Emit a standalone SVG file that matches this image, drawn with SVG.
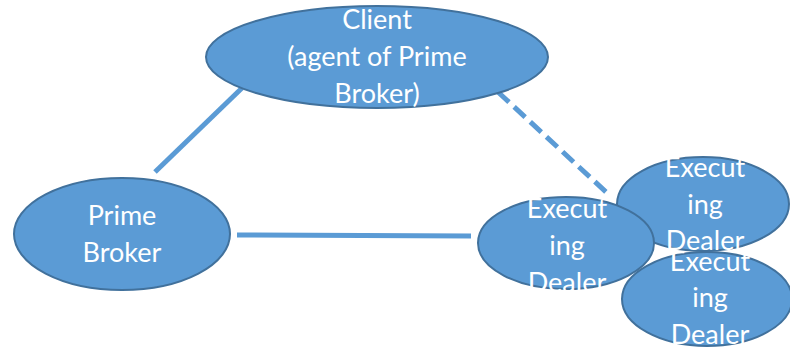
<svg xmlns="http://www.w3.org/2000/svg" width="790" height="348" viewBox="0 0 790 348">
  <style>
    .node { fill: #5b9bd5; stroke: #41719c; stroke-width: 2; }
    .label { fill: #ffffff; font-family: Lato, "Open Sans", "Liberation Sans", sans-serif; font-size: 27px; text-anchor: middle; }
    .link { stroke: #5b9bd5; stroke-width: 5; fill: none; }
    .dashed { stroke-dasharray: 15 7; }
  </style>
  <rect width="790" height="348" fill="#ffffff"/>

  <g id="connectors">
    <line class="link" x1="155" y1="172" x2="242" y2="88"/>
    <line class="link" x1="237" y1="235" x2="471" y2="236"/>
    <line class="link dashed" x1="498" y1="92" x2="606" y2="192"/>
  </g>

  <g id="client">
    <ellipse class="node" cx="377" cy="57" rx="171" ry="51"/>
    <text class="label" x="377" y="29">Client</text>
    <text class="label" x="377" y="66">(agent of Prime</text>
    <text class="label" x="377" y="103">Broker)</text>
  </g>

  <g id="prime-broker">
    <ellipse class="node" cx="122" cy="234" rx="108" ry="56"/>
    <text class="label" x="122" y="225">Prime</text>
    <text class="label" x="122" y="262">Broker</text>
  </g>

  <g id="dealer-top">
    <ellipse class="node" cx="703" cy="204" rx="86" ry="47"/>
    <text class="label" x="705" y="177">Execut</text>
    <text class="label" x="705" y="214">ing</text>
    <text class="label" x="705" y="250">Dealer</text>
  </g>

  <g id="dealer-bottom">
    <ellipse class="node" cx="707" cy="299" rx="85" ry="47"/>
    <text class="label" x="710" y="271">Execut</text>
    <text class="label" x="710" y="307">ing</text>
    <text class="label" x="710" y="344">Dealer</text>
  </g>

  <g id="dealer-left">
    <ellipse class="node" cx="566" cy="243" rx="88" ry="46"/>
    <text class="label" x="567" y="218">Execut</text>
    <text class="label" x="567" y="255">ing</text>
    <text class="label" x="567" y="292">Dealer</text>
  </g>
</svg>
